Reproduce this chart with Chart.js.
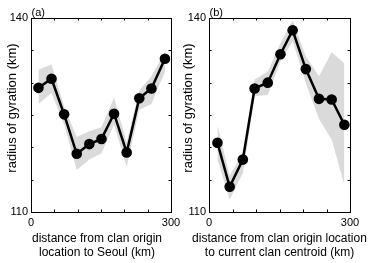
<!DOCTYPE html>
<html>
<head>
<meta charset="utf-8">
<script src="https://cdn.jsdelivr.net/npm/chart.js@4.4.0/dist/chart.umd.min.js"></script>
<style>
    html, body { margin: 0; padding: 0; background: #fff; }
    #wrap { position: relative; width: 374px; height: 263px; overflow: hidden; }
    canvas { position: absolute; top: 0; }
    #panelA { left: 0; }
    #panelB { left: 172px; }
</style>
</head>
<body>
<div id="wrap">
    <canvas id="panelA" width="190" height="263"></canvas>
    <canvas id="panelB" width="202" height="263"></canvas>
</div>
<script>
// (a) distance from clan origin to Seoul
var distSeoul = [16, 44, 71, 98, 125, 151, 178, 205, 232, 258, 287];
var gyrationSeoul = [129.2, 130.6, 125.1, 119.0, 120.5, 121.3, 125.2, 119.2, 127.6, 129.1, 133.7];
var gyrationSeoulHigh = [132.0, 132.8, 126.3, 121.6, 122.5, 123.1, 127.7, 120.8, 128.8, 131.0, 134.8];
var gyrationSeoulLow = [126.7, 128.4, 123.5, 116.5, 118.1, 119.1, 123.5, 117.0, 125.8, 126.7, 131.7];

// (b) distance from clan origin to current clan centroid
var distCentroid = [18, 44, 72, 97, 125, 152, 178, 206, 234, 261, 288];
var gyrationCentroid = [120.7, 113.9, 118.1, 129.1, 130.0, 134.4, 138.1, 132.1, 127.5, 127.4, 123.5];
var gyrationCentroidHigh = [123.5, 115.6, 119.2, 130.5, 131.7, 136.1, 139.6, 134.1, 131.0, 134.7, 133.0];
var gyrationCentroidLow = [118.1, 111.9, 116.0, 127.9, 128.1, 133.3, 136.4, 129.9, 124.4, 121.2, 114.2];

var yTickLabels = [110, 140];
var xTickLabels = [0, 300];
var yTitle = 'radius of gyration (km)';
var bandColor = '#dadada';
var fontFamily = '"Liberation Sans", Arial, Helvetica, sans-serif';

function toPoints(xs, ys) {
    return xs.map(function (x, i) { return { x: x, y: ys[i] }; });
}

// frame with inward ticks on all four sides, panel letter and axis titles
var boxTicks = {
    id: 'boxTicks',
    afterDatasetsDraw: function (chart, args, opts) {
        var ctx = chart.ctx;
        var a = chart.chartArea;
        var xs = chart.scales.x;
        var ys = chart.scales.y;
        var len = 2.5;
        ctx.save();
        ctx.strokeStyle = '#000';
        ctx.lineWidth = 1;
        ctx.strokeRect(a.left + 0.5, a.top + 0.5, a.right - a.left, a.bottom - a.top);
        ctx.beginPath();
        xs.ticks.forEach(function (t) {
            var px = Math.round(xs.getPixelForValue(t.value)) + 0.5;
            ctx.moveTo(px, a.top); ctx.lineTo(px, a.top + len);
            ctx.moveTo(px, a.bottom); ctx.lineTo(px, a.bottom - len);
        });
        ys.ticks.forEach(function (t) {
            var py = Math.round(ys.getPixelForValue(t.value)) + 0.5;
            ctx.moveTo(a.left, py); ctx.lineTo(a.left + len, py);
            ctx.moveTo(a.right, py); ctx.lineTo(a.right - len, py);
        });
        ctx.stroke();

        ctx.fillStyle = '#000';
        ctx.font = '11px ' + fontFamily;
        ctx.textBaseline = 'alphabetic';
        ctx.textAlign = 'left';
        ctx.fillText(opts.letter, a.left + 0.5, a.top - 2);

        ctx.font = '12px ' + fontFamily;
        ctx.textAlign = 'center';
        ctx.textBaseline = 'middle';
        opts.xTitle.forEach(function (line, i) {
            ctx.fillText(line, opts.xTitleX, 238.5 + i * 14.5);
        });

        ctx.font = '13px ' + fontFamily;
        ctx.translate(opts.yTitleX, 108);
        ctx.rotate(-Math.PI / 2);
        ctx.fillText(yTitle, 0, 0);
        ctx.restore();
    }
};

function makePanel(id, xs, mid, hi, lo, yAxisWidth, padRight, opts) {
    new Chart(document.getElementById(id), {
        type: 'line',
        data: {
            datasets: [
                {
                    data: toPoints(xs, mid),
                    borderColor: '#000',
                    borderWidth: 2.5,
                    pointRadius: 5.3,
                    pointBackgroundColor: '#000',
                    pointBorderWidth: 0,
                    fill: false,
                    tension: 0
                },
                {
                    data: toPoints(xs, hi),
                    borderWidth: 0,
                    pointRadius: 0,
                    backgroundColor: bandColor,
                    fill: '+1'
                },
                {
                    data: toPoints(xs, lo),
                    borderWidth: 0,
                    pointRadius: 0,
                    fill: false
                }
            ]
        },
        options: {
            responsive: false,
            animation: false,
            events: [],
            layout: { padding: { left: 0, right: padRight, top: 18, bottom: 0 } },
            plugins: {
                legend: { display: false },
                tooltip: { enabled: false },
                boxTicks: opts
            },
            scales: {
                x: {
                    type: 'linear',
                    min: 0,
                    max: 300,
                    grid: { display: false, drawTicks: false },
                    border: { display: false },
                    afterFit: function (s) { s.height = 51; },
                    ticks: {
                        stepSize: 50,
                        autoSkip: false,
                        maxRotation: 0,
                        padding: 4,
                        color: '#000',
                        font: { family: fontFamily, size: 11 },
                        callback: function (v) { return xTickLabels.indexOf(v) >= 0 ? String(v) : ''; }
                    }
                },
                y: {
                    type: 'linear',
                    min: 110,
                    max: 140,
                    grid: { display: false, drawTicks: false },
                    border: { display: false },
                    afterFit: function (s) { s.width = yAxisWidth; },
                    ticks: {
                        stepSize: 5,
                        autoSkip: false,
                        padding: 3,
                        color: '#000',
                        font: { family: fontFamily, size: 11 },
                        callback: function (v) { return yTickLabels.indexOf(v) >= 0 ? String(v) : ''; }
                    }
                }
            }
        },
        plugins: [boxTicks]
    });
}

makePanel('panelA', distSeoul, gyrationSeoul, gyrationSeoulHigh, gyrationSeoulLow, 31, 19, {
    letter: '(a)',
    xTitle: ['distance from clan origin', 'location to Seoul (km)'],
    xTitleX: 97,
    yTitleX: 12
});
makePanel('panelB', distCentroid, gyrationCentroid, gyrationCentroidHigh, gyrationCentroidLow, 37, 24, {
    letter: '(b)',
    xTitle: ['distance from clan origin location', 'to current clan centroid (km)'],
    xTitleX: 107.5,
    yTitleX: 16
});
</script>
</body>
</html>
